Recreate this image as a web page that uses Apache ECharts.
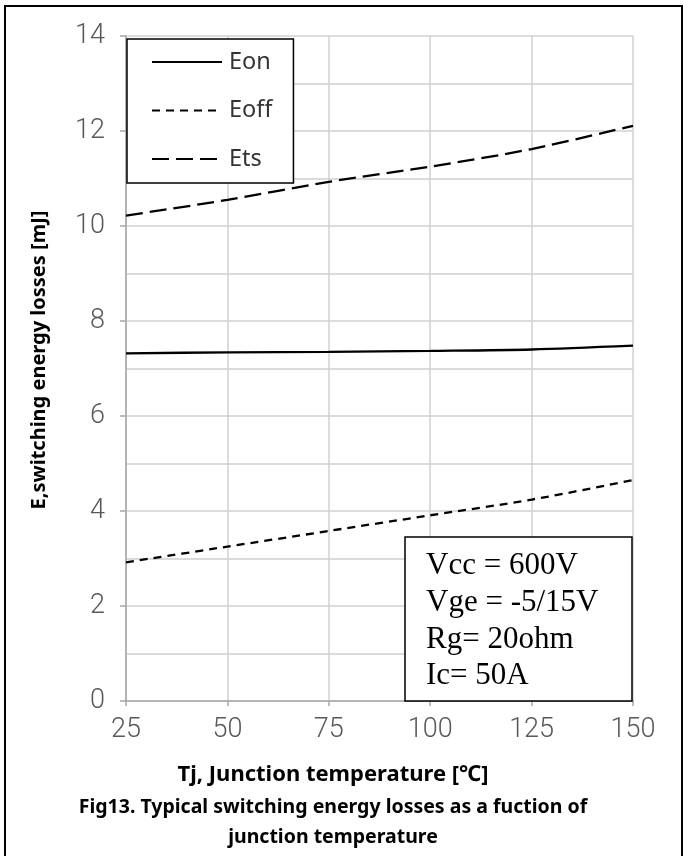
<!DOCTYPE html>
<html>
<head>
<meta charset="utf-8">
<script src="https://cdn.jsdelivr.net/npm/echarts@6/dist/echarts.min.js"></script>
<style>
  html, body { margin: 0; padding: 0; background: #fff; }
  #chart { width: 683px; height: 856px; }
</style>
</head>
<body>
<div id="chart"></div>
<script>
// ---- data ----
const temps = [25, 50, 75, 100, 125, 150];
const eon  = [7.32, 7.34, 7.35, 7.37, 7.40, 7.48];
const eoff = [2.92, 3.25, 3.58, 3.91, 4.24, 4.65];
const ets  = [10.22, 10.55, 10.93, 11.25, 11.62, 12.11];
const seriesNames = ['Eon', 'Eoff', 'Ets'];
const xTickStep = 25;
const yTickStep = 2;
const xTitle = 'Tj, Junction temperature [℃]';
const yTitle = 'E,switching energy losses [mJ]';
const captionLines = ['Fig13. Typical switching energy losses as a fuction of', 'junction temperature'];
const conditions = ['Vcc = 600V', 'Vge = -5/15V', 'Rg= 20ohm', 'Ic= 50A'];

const tickFont = "'Roboto', sans-serif";
const axisGray = '#a6a6a6';
const gridGray = '#d0d0d0';

function pairs(ys) { return temps.map((t, i) => [t, ys[i]]); }

const chart = echarts.init(document.getElementById('chart'), null, { renderer: 'canvas' });

const condGraphics = conditions.map((t, i) => ({
  type: 'text',
  x: 426,
  y: 566 + i * 36.7,
  z: 101,
  style: {
    text: t,
    fontFamily: "'Liberation Serif', 'Times New Roman', serif",
    fontSize: 31,
    fill: '#000',
    textAlign: 'left',
    textVerticalAlign: 'middle'
  }
}));

const option = {
  animation: false,
  backgroundColor: '#fff',
  grid: { left: 126, top: 36, width: 507, height: 665, containLabel: false },
  legend: {
    data: seriesNames,
    orient: 'vertical',
    left: 127,
    top: 39,
    itemWidth: 70,
    itemHeight: 24,
    itemGap: 24.5,
    padding: [11, 21, 12, 24],
    borderColor: '#000',
    borderWidth: 1.5,
    borderRadius: 0,
    backgroundColor: '#fff',
    itemStyle: { opacity: 0 },
    textStyle: { fontFamily: "'Noto Sans', sans-serif", fontSize: 23.5, color: '#333', padding: [0, 0, 0, 2] }
  },
  xAxis: {
    type: 'value',
    min: 25,
    max: 150,
    interval: xTickStep,
    axisLine: { show: true, lineStyle: { color: axisGray, width: 1.5 } },
    axisTick: { show: true, length: 5, lineStyle: { color: axisGray, width: 1.5 } },
    splitLine: { show: true, lineStyle: { color: gridGray, width: 1.5 } },
    axisLabel: { margin: 16, fontSize: 27, fontWeight: 300, color: '#595959', fontFamily: tickFont }
  },
  yAxis: {
    type: 'value',
    min: 0,
    max: 14,
    interval: yTickStep,
    axisLine: { show: true, lineStyle: { color: axisGray, width: 1.5 } },
    axisTick: { show: true, length: 6, lineStyle: { color: axisGray, width: 1.5 } },
    minorTick: { show: false, splitNumber: 2 },
    splitLine: { show: true, lineStyle: { color: gridGray, width: 1.5 } },
    minorSplitLine: { show: true, lineStyle: { color: gridGray, width: 1.5 } },
    axisLabel: { margin: 21, fontSize: 27, fontWeight: 300, color: '#595959', fontFamily: tickFont }
  },
  series: [
    { name: 'Eon', type: 'line', data: pairs(eon), symbol: 'none', smooth: 0.3,
      lineStyle: { color: '#000', width: 2.3, type: 'solid' }, itemStyle: { color: '#000' } },
    { name: 'Eoff', type: 'line', data: pairs(eoff), symbol: 'none', smooth: 0.3,
      lineStyle: { color: '#000', width: 2.3, type: [8, 6] }, itemStyle: { color: '#000' } },
    { name: 'Ets', type: 'line', data: pairs(ets), symbol: 'none', smooth: 0.3,
      lineStyle: { color: '#000', width: 2.3, type: [17, 7] }, itemStyle: { color: '#000' } }
  ],
  graphic: [
    { type: 'rect', z: 0, silent: true,
      shape: { x: 5, y: 6, width: 677, height: 856 },
      style: { fill: 'none', stroke: '#000', lineWidth: 2 } },
    { type: 'text', x: 39, y: 360, rotation: Math.PI / 2, z: 100,
      style: { text: yTitle, fontFamily: "'Noto Sans', sans-serif", fontWeight: 'bold', fontSize: 20,
               fill: '#000', textAlign: 'center', textVerticalAlign: 'middle' } },
    { type: 'text', x: 333, y: 775, z: 100,
      style: { text: xTitle, fontFamily: "'Noto Sans', sans-serif", fontWeight: 'bold', fontSize: 22,
               fill: '#000', textAlign: 'center', textVerticalAlign: 'middle' } },
    { type: 'text', x: 333, y: 807, z: 100,
      style: { text: captionLines[0], fontFamily: "'Noto Sans', sans-serif", fontWeight: 'bold', fontSize: 19.5,
               fill: '#000', textAlign: 'center', textVerticalAlign: 'middle' } },
    { type: 'text', x: 333, y: 837, z: 100,
      style: { text: captionLines[1], fontFamily: "'Noto Sans', sans-serif", fontWeight: 'bold', fontSize: 19.5,
               fill: '#000', textAlign: 'center', textVerticalAlign: 'middle' } },
    { type: 'rect', z: 100,
      shape: { x: 405, y: 537, width: 227, height: 164 },
      style: { fill: '#fff', stroke: '#000', lineWidth: 1.5 } }
  ].concat(condGraphics)
};

chart.setOption(option);
</script>
</body>
</html>
